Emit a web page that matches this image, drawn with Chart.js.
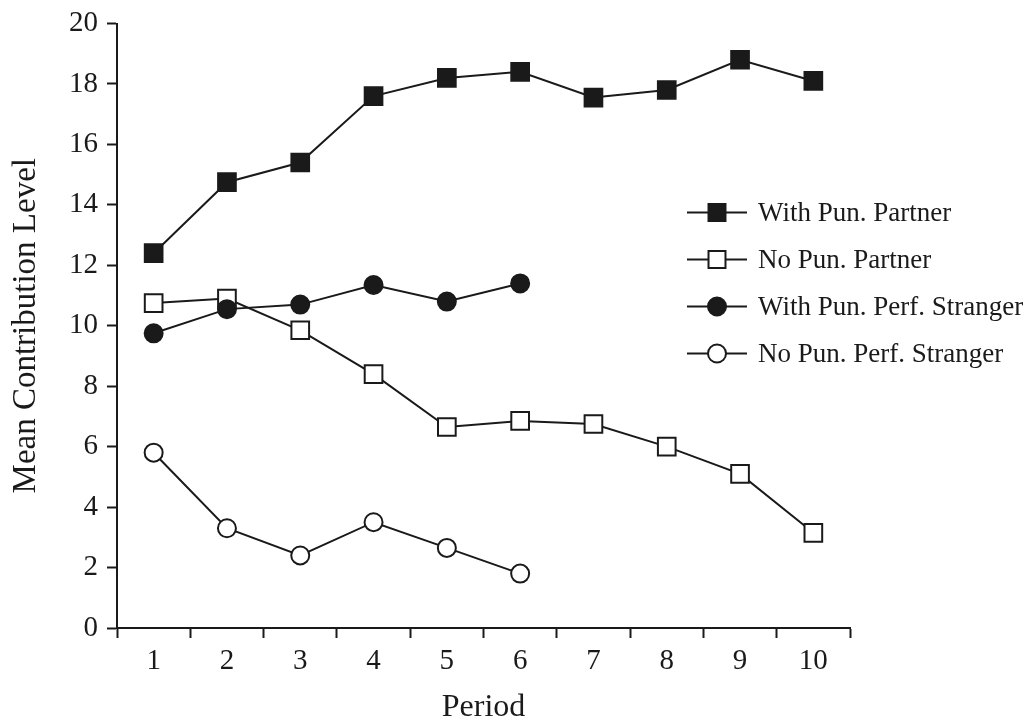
<!DOCTYPE html>
<html>
<head>
<meta charset="utf-8">
<script src="https://cdn.jsdelivr.net/npm/chart.js@4/dist/chart.umd.min.js"></script>
<style>
  html, body { margin: 0; padding: 0; background: #fff; }
  #wrap { width: 1031px; height: 720px; position: relative; }
</style>
</head>
<body>
<div id="wrap"><canvas id="chart"></canvas></div>
<script>
const periods = [1, 2, 3, 4, 5, 6, 7, 8, 9, 10]
const yTicks = [0, 2, 4, 6, 8, 10, 12, 14, 16, 18, 20]

const withPunPartner = [12.4, 14.75, 15.4, 17.6, 18.2, 18.4, 17.55, 17.8, 18.8, 18.1]
const noPunPartner = [10.75, 10.9, 9.85, 8.4, 6.65, 6.85, 6.75, 6.0, 5.1, 3.15]
const withPunStranger = [9.75, 10.55, 10.7, 11.35, 10.8, 11.4]
const noPunStranger = [5.8, 3.3, 2.4, 3.5, 2.65, 1.8]

const INK = "#1a1a1a"
const FONT = "'Liberation Serif', 'Times New Roman', serif"

const toPoints = (vals) => vals.map((v, i) => ({ x: periods[i], y: v }))

const series = [
  { label: "With Pun. Partner", data: withPunPartner, style: "rect", fill: INK, radius: 12.5, order: 3 },
  { label: "No Pun. Partner", data: noPunPartner, style: "rect", fill: "#fff", radius: 12.5, order: 2 },
  { label: "With Pun. Perf. Stranger", data: withPunStranger, style: "circle", fill: INK, radius: 9, order: 1 },
  { label: "No Pun. Perf. Stranger", data: noPunStranger, style: "circle", fill: "#fff", radius: 9, order: 0 },
]

// legend drawn by hand so the line runs through the marker
const seriesLegend = {
  id: "seriesLegend",
  afterDraw(chart) {
    const { ctx, chartArea } = chart
    const lineStart = chartArea.right - 163
    const lineEnd = chartArea.right - 103
    const markX = chartArea.right - 133
    const textX = chartArea.right - 92
    ctx.save()
    series.forEach((s, i) => {
      const y = chartArea.top + 189 + i * 47
      ctx.strokeStyle = INK
      ctx.lineWidth = 2
      ctx.beginPath()
      ctx.moveTo(lineStart, y)
      ctx.lineTo(lineEnd, y)
      ctx.stroke()
      ctx.fillStyle = s.fill
      Chart.helpers.drawPoint(ctx, {
        pointStyle: s.style,
        radius: s.style === "rect" ? 12 : 9,
        borderWidth: 2,
        rotation: 0,
      }, markX, y)
      ctx.fillStyle = INK
      ctx.font = "27px " + FONT
      ctx.textBaseline = "middle"
      ctx.textAlign = "left"
      ctx.fillText(s.label, textX, y + 1)
    })
    ctx.restore()
  }
}

new Chart(document.getElementById("chart"), {
  type: "line",
  data: {
    datasets: series.map(s => ({
      label: s.label,
      data: toPoints(s.data),
      borderColor: INK,
      borderWidth: 2,
      backgroundColor: s.fill,
      pointStyle: s.style,
      pointRadius: s.radius,
      pointBorderWidth: 2,
      pointBorderColor: INK,
      pointBackgroundColor: s.fill,
      tension: 0,
      order: s.order,
    }))
  },
  options: {
    responsive: true,
    maintainAspectRatio: false,
    animation: false,
    layout: { padding: { top: 22, right: 181, bottom: 0, left: 0 } },
    plugins: {
      legend: { display: false },
      tooltip: { enabled: false },
    },
    scales: {
      x: {
        type: "linear",
        min: 0.5,
        max: 10.5,
        afterFit: (scale) => { scale.height = 92 },
        afterBuildTicks: (scale) => {
          const t = []
          for (let v = 0.5; v <= 10.5; v += 0.5) t.push({ value: v })
          scale.ticks = t
        },
        ticks: {
          color: INK,
          font: { family: FONT, size: 29 },
          padding: 6,
          maxRotation: 0,
          autoSkip: false,
          callback: (v) => periods.includes(v) ? String(v) : "",
        },
        grid: {
          drawOnChartArea: false,
          drawTicks: true,
          tickLength: 10,
          tickWidth: 2,
          tickColor: (ctx) => (ctx.tick && Number.isInteger(ctx.tick.value)) ? "rgba(0,0,0,0)" : INK,
        },
        border: { color: INK, width: 2 },
        title: {
          display: true,
          text: "Period",
          color: INK,
          font: { family: FONT, size: 32, lineHeight: 1 },
          padding: { top: 3, bottom: -4 },
        },
      },
      y: {
        min: 0,
        max: 20,
        afterFit: (scale) => { scale.width = 117 },
        afterBuildTicks: (scale) => { scale.ticks = yTicks.map(v => ({ value: v })) },
        ticks: {
          color: INK,
          font: { family: FONT, size: 29, lineHeight: 1 },
          padding: 9,
        },
        grid: {
          drawOnChartArea: false,
          drawTicks: true,
          tickLength: 10,
          tickWidth: 2,
          tickColor: INK,
        },
        border: { color: INK, width: 2 },
        title: {
          display: true,
          text: "Mean Contribution Level",
          color: INK,
          font: { family: FONT, size: 33 },
          padding: { top: 7, bottom: 4 },
        },
      },
    },
  },
  plugins: [seriesLegend],
})
</script>
</body>
</html>
